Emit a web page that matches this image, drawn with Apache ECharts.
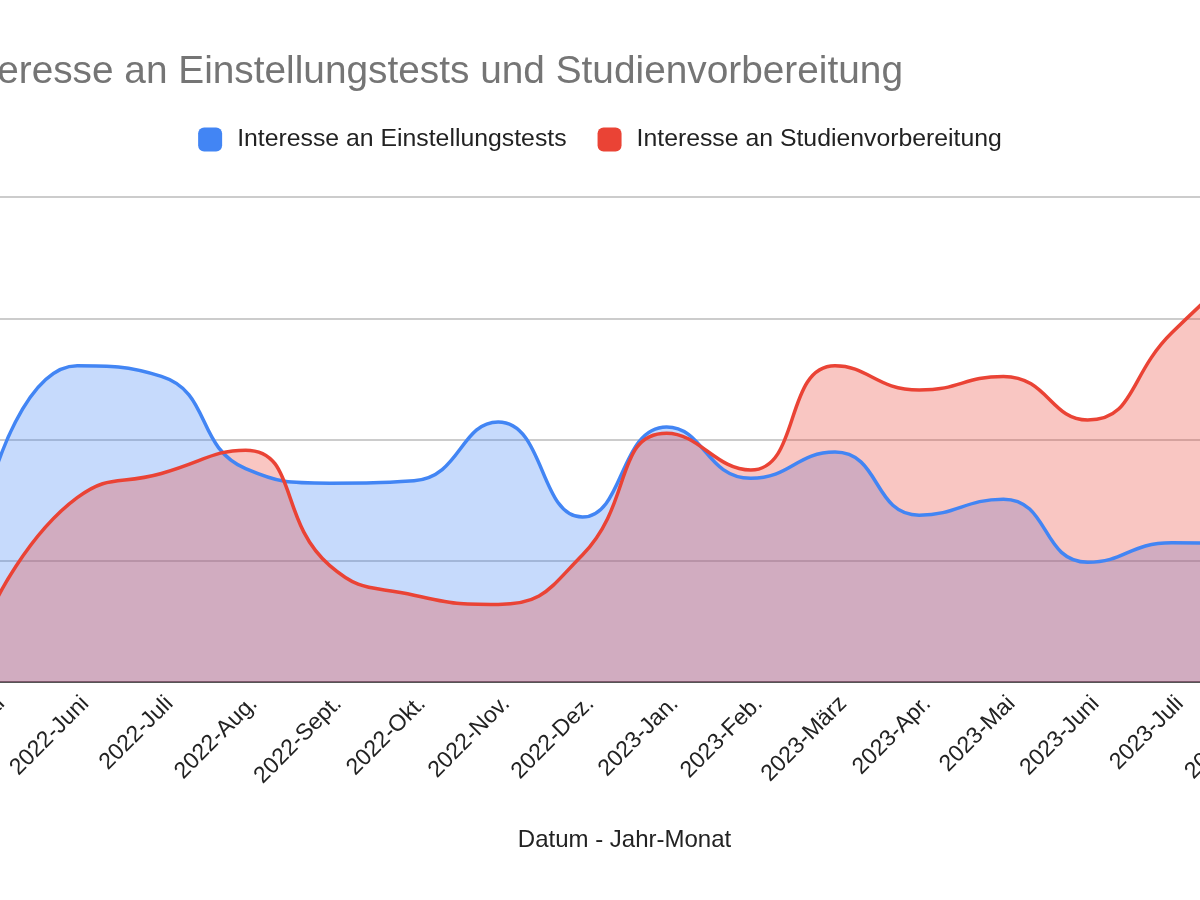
<!DOCTYPE html>
<html>
<head>
<meta charset="utf-8">
<title>Interesse an Einstellungstests und Studienvorbereitung</title>
<script src="https://cdn.jsdelivr.net/npm/echarts@6/dist/echarts.min.js"></script>
<style>
    html, body { margin: 0; padding: 0; background: #fff; }
    #chart { width: 1200px; height: 900px; }
</style>
</head>
<body>
<div id="chart"></div>
<script>
    // Monate (Kategorien) und Werte
    var months = [
        "2022-Mai", "2022-Juni", "2022-Juli", "2022-Aug.", "2022-Sept.", "2022-Okt.",
        "2022-Nov.", "2022-Dez.", "2023-Jan.", "2023-Feb.", "2023-März", "2023-Apr.",
        "2023-Mai", "2023-Juni", "2023-Juli", "2023-Aug."
    ];
    var einstellungstests = [42, 65.2, 63, 44, 41, 41.5, 53.6, 34, 52.6, 42, 47.4, 34.4, 37.7, 24.7, 28.7, 28.5];
    var studienvorbereitung = [15.5, 38, 43, 47.8, 24, 17.9, 16, 26.2, 51.3, 43.7, 65.2, 60.2, 63, 54, 72, 88];
    var yTicks = [0, 25, 50, 75, 100];

    var nameBlue = "Interesse an Einstellungstests";
    var nameRed = "Interesse an Studienvorbereitung";
    var blue = "#4285f4";
    var red = "#ea4335";
    var font = "Liberation Sans, Arial, sans-serif";
    var smoothness = 0.5;

    var myChart = echarts.init(document.getElementById("chart"));

    var option = {
        backgroundColor: "#ffffff",
        animation: false,
        title: {
            text: "Interesse an Einstellungstests und Studienvorbereitung",
            left: -46,
            top: 53,
            padding: 0,
            textStyle: { fontFamily: font, fontSize: 38.8, fontWeight: "normal", color: "#757575" }
        },
        legend: {
            data: [nameBlue, nameRed],
            left: "center",
            top: 122,
            icon: "roundRect",
            itemWidth: 24,
            itemHeight: 24,
            itemGap: 31,
            textStyle: { fontFamily: font, fontSize: 24.8, color: "#222", padding: [0, 0, 0, 10] }
        },
        grid: { left: -7, right: -56, top: 197, bottom: 218, containLabel: false, outerBoundsMode: "none" },
        xAxis: {
            type: "category",
            data: months,
            boundaryGap: false,
            name: "Datum - Jahr-Monat",
            nameLocation: "middle",
            nameGap: 146,
            nameTextStyle: { fontFamily: font, fontSize: 24, color: "#222", verticalAlign: "top" },
            axisLine: { lineStyle: { color: "#555", width: 2 } },
            axisTick: { show: false },
            axisLabel: {
                rotate: 45,
                interval: 0,
                margin: 10,
                verticalAlign: "top",
                hideOverlap: false,
                fontFamily: font,
                fontSize: 23,
                color: "#222"
            }
        },
        yAxis: {
            type: "value",
            min: yTicks[0],
            max: yTicks[yTicks.length - 1],
            interval: yTicks[1] - yTicks[0],
            axisLabel: { show: false },
            axisLine: { show: false },
            axisTick: { show: false },
            splitLine: { lineStyle: { color: "#cccccc", width: 2 } }
        },
        series: [
            // Flächen zuerst, Linien darüber (wie im Original)
            {
                name: nameBlue, type: "line", data: einstellungstests, smooth: smoothness,
                showSymbol: false, z: 1, color: blue,
                lineStyle: { width: 0 }, areaStyle: { color: blue, opacity: 0.3 }
            },
            {
                name: nameRed, type: "line", data: studienvorbereitung, smooth: smoothness,
                showSymbol: false, z: 2, color: red,
                lineStyle: { width: 0 }, areaStyle: { color: red, opacity: 0.3 }
            },
            {
                name: nameBlue, type: "line", data: einstellungstests, smooth: smoothness,
                showSymbol: false, z: 3, color: blue,
                lineStyle: { width: 3.5, color: blue }
            },
            {
                name: nameRed, type: "line", data: studienvorbereitung, smooth: smoothness,
                showSymbol: false, z: 4, color: red,
                lineStyle: { width: 3.5, color: red }
            }
        ]
    };

    option && myChart.setOption(option);
</script>
</body>
</html>
